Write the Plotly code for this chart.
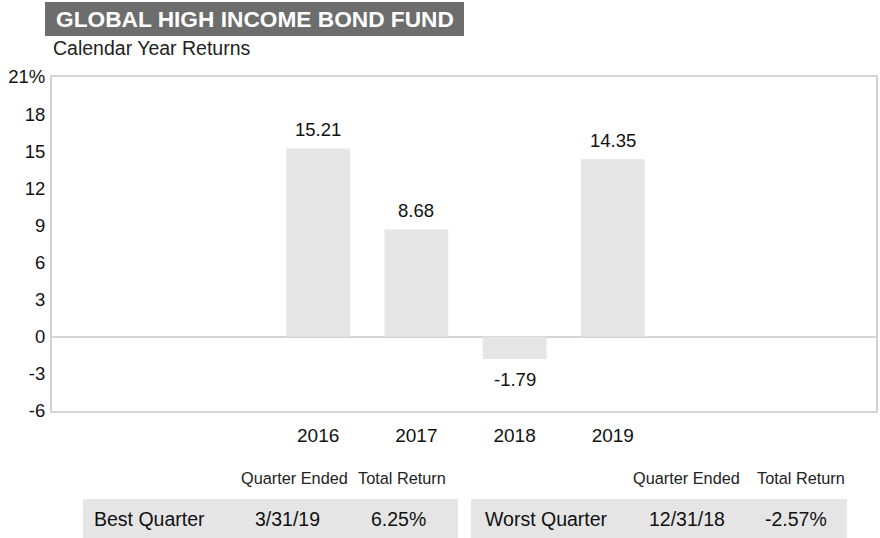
import plotly.graph_objects as go

# Calendar year returns
years = [2016, 2017, 2018, 2019]
returns = [15.21, 8.68, -1.79, 14.35]

y_ticks = [-6, -3, 0, 3, 6, 9, 12, 15, 18, 21]
y_tick_text = ["-6", "-3", "0", "3", "6", "9", "12", "15", "18", "21%"]

# Best / worst quarter table
quarter_labels = ["Best Quarter", "Worst Quarter"]
quarter_dates = ["3/31/19", "12/31/18"]
quarter_returns = ["6.25%", "-2.57%"]

title_text = "GLOBAL HIGH INCOME BOND FUND"
subtitle_text = "Calendar Year Returns"

W, H = 880, 538
ML, MR, MT, MB = 52, 2, 77, 127
PW, PH = W - ML - MR, H - MT - MB

FONT = "Liberation Sans, Arial, Helvetica, sans-serif"
BAR = "#e5e5e5"
FRAME = "#d4d4d4"


def px(x):
    return (x - ML) / PW


def py(y):
    return (H - MB - y) / PH


fig = go.Figure()
fig.add_trace(go.Bar(
    x=years, y=returns, width=0.65,
    marker=dict(color=BAR, line=dict(width=0)),
    hoverinfo="skip", showlegend=False,
))

annotations = []
for yr, v in zip(years, returns):
    annotations.append(dict(
        x=yr, y=v, xref="x", yref="y", text=f"{v:.2f}", showarrow=False,
        xanchor="center", yanchor="middle", yshift=19 if v >= 0 else -21,
        font=dict(family=FONT, size=18.5, color="#111"),
    ))

# header block
shapes = [dict(type="rect", xref="paper", yref="paper",
               x0=px(45), x1=px(465), y0=py(36), y1=py(2),
               fillcolor="#6d6d6d", line=dict(width=0), layer="below")]
annotations.append(dict(x=px(54), y=py(19), xref="paper", yref="paper",
                        text=f"<b>{title_text}</b>", showarrow=False,
                        xanchor="left", yanchor="middle",
                        font=dict(family=FONT, size=22.7, color="white")))
annotations.append(dict(x=px(51), y=py(48), xref="paper", yref="paper",
                        text=subtitle_text, showarrow=False,
                        xanchor="left", yanchor="middle",
                        font=dict(family=FONT, size=19.5, color="#222")))

# quarter table
boxes = [(83, 459), (472, 849)]
header_x = [(239, 357), (632, 757)]
cell_x = [(92, 253, 370), (484, 648, 765)]
for i in range(2):
    bx0, bx1 = boxes[i]
    shapes.append(dict(type="rect", xref="paper", yref="paper",
                       x0=px(bx0), x1=px(bx1), y0=py(545), y1=py(499),
                       fillcolor=BAR, line=dict(width=0), layer="below"))
    for hx, ht in zip(header_x[i], ["Quarter Ended", "Total Return"]):
        annotations.append(dict(x=px(hx), y=py(478), xref="paper", yref="paper",
                                text=ht, showarrow=False, xanchor="left",
                                yanchor="middle",
                                font=dict(family=FONT, size=16.3, color="#222")))
    for cx, ct in zip(cell_x[i], [quarter_labels[i], quarter_dates[i], quarter_returns[i]]):
        annotations.append(dict(x=px(cx), y=py(519), xref="paper", yref="paper",
                                text=ct, showarrow=False, xanchor="left",
                                yanchor="middle",
                                font=dict(family=FONT, size=19.5, color="#111")))

fig.update_layout(
    width=W, height=H,
    margin=dict(l=ML, r=MR, t=MT, b=MB),
    paper_bgcolor="white", plot_bgcolor="white",
    font=dict(family=FONT, color="#111"),
    shapes=shapes, annotations=annotations,
    xaxis=dict(range=[2013.29, 2021.68], tickvals=years,
               ticktext=[str(y) for y in years], showgrid=False,
               zeroline=False, showline=True, mirror=True,
               linecolor=FRAME, linewidth=2, ticks="",
               ticklabelstandoff=6,
               tickfont=dict(family=FONT, size=19, color="#111")),
    yaxis=dict(range=[-6, 21], tickvals=y_ticks, ticktext=y_tick_text,
               showgrid=False, zeroline=True, zerolinecolor=FRAME,
               zerolinewidth=2, showline=True, mirror=True,
               linecolor=FRAME, linewidth=2, ticks="",
               ticklabelstandoff=1,
               tickfont=dict(family=FONT, size=18.5, color="#111")),
)

fig.write_html("out.html")
